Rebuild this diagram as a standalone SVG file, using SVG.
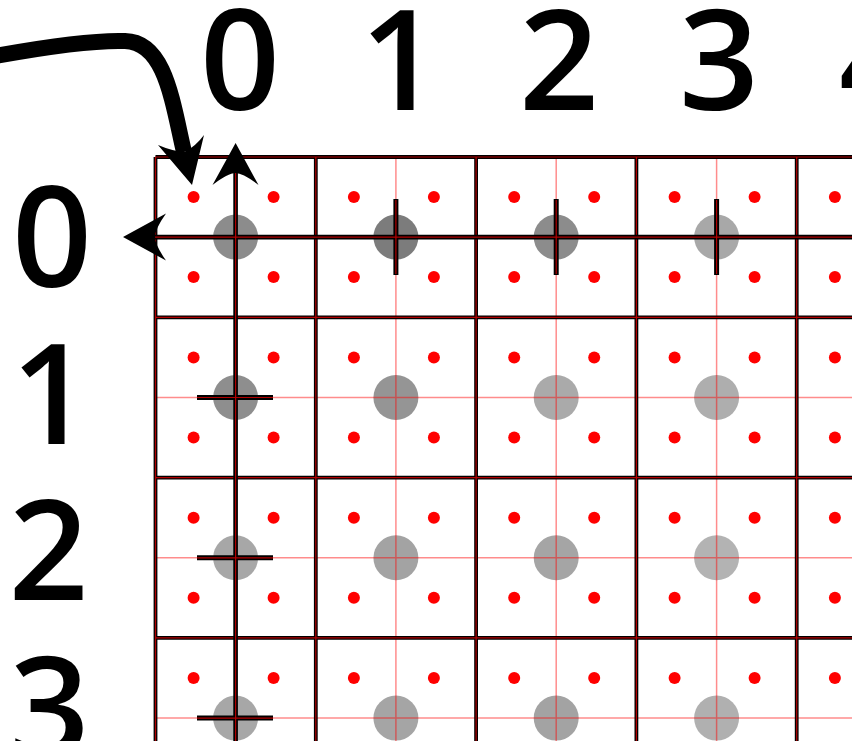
<svg xmlns="http://www.w3.org/2000/svg" width="852" height="741" viewBox="0 0 852 741">
<defs>
<style>
.lbl{font-family:"Open Sans","Liberation Sans",Arial,sans-serif;font-weight:600;font-size:140px;fill:#000;text-anchor:middle}
.dot{fill:#ff0000}
.thin{stroke:#ff0000;stroke-opacity:0.45;stroke-width:1.5;fill:none}
.bk{stroke:#000;stroke-width:3.8;fill:none}
.rd{stroke:#b00000;stroke-width:1.2;fill:none}
.ax{stroke:#000;stroke-width:4.6;fill:none}
.tk{stroke:#000;stroke-width:5;fill:none}
.ah{fill:#000}
</style>
<g id="dots4">
<circle class="dot" cx="-42" cy="-40" r="6"/>
<circle class="dot" cx="38" cy="-40" r="6"/>
<circle class="dot" cx="-42" cy="40" r="6"/>
<circle class="dot" cx="38" cy="40" r="6"/>
</g>
</defs>
<rect width="852" height="741" fill="#fff"/>

<g id="cells">
<g id="cell-0-0"><circle cx="235.6" cy="237.1" r="22.5" fill="#8c8c8c"/><use href="#dots4" x="235.6" y="237.1"/></g>
<g id="cell-1-0"><circle cx="395.9" cy="237.1" r="22.5" fill="#7c7c7c"/><use href="#dots4" x="395.9" y="237.1"/></g>
<g id="cell-2-0"><circle cx="556.2" cy="237.1" r="22.5" fill="#8c8c8c"/><use href="#dots4" x="556.2" y="237.1"/></g>
<g id="cell-3-0"><circle cx="716.6" cy="237.1" r="22.5" fill="#a8a8a8"/><use href="#dots4" x="716.6" y="237.1"/></g>
<g id="cell-4-0"><use href="#dots4" x="876.9" y="237.1"/></g>

<g id="cell-0-1"><circle cx="235.6" cy="397.5" r="22.5" fill="#8e8e8e"/><use href="#dots4" x="235.6" y="397.5"/></g>
<g id="cell-1-1"><circle cx="395.9" cy="397.5" r="22.5" fill="#959595"/><use href="#dots4" x="395.9" y="397.5"/></g>
<g id="cell-2-1"><circle cx="556.2" cy="397.5" r="22.5" fill="#aaaaaa"/><use href="#dots4" x="556.2" y="397.5"/></g>
<g id="cell-3-1"><circle cx="716.6" cy="397.5" r="22.5" fill="#aeaeae"/><use href="#dots4" x="716.6" y="397.5"/></g>
<g id="cell-4-1"><use href="#dots4" x="876.9" y="397.5"/></g>

<g id="cell-0-2"><circle cx="235.6" cy="557.8" r="22.5" fill="#a7a7a7"/><use href="#dots4" x="235.6" y="557.8"/></g>
<g id="cell-1-2"><circle cx="395.9" cy="557.8" r="22.5" fill="#a3a3a3"/><use href="#dots4" x="395.9" y="557.8"/></g>
<g id="cell-2-2"><circle cx="556.2" cy="557.8" r="22.5" fill="#a5a5a5"/><use href="#dots4" x="556.2" y="557.8"/></g>
<g id="cell-3-2"><circle cx="716.6" cy="557.8" r="22.5" fill="#b3b3b3"/><use href="#dots4" x="716.6" y="557.8"/></g>
<g id="cell-4-2"><use href="#dots4" x="876.9" y="557.8"/></g>

<g id="cell-0-3"><circle cx="235.6" cy="718.1" r="22.5" fill="#a7a7a7"/><use href="#dots4" x="235.6" y="718.1"/></g>
<g id="cell-1-3"><circle cx="395.9" cy="718.1" r="22.5" fill="#a5a5a5"/><use href="#dots4" x="395.9" y="718.1"/></g>
<g id="cell-2-3"><circle cx="556.2" cy="718.1" r="22.5" fill="#a3a3a3"/><use href="#dots4" x="556.2" y="718.1"/></g>
<g id="cell-3-3"><circle cx="716.6" cy="718.1" r="22.5" fill="#b0b0b0"/><use href="#dots4" x="716.6" y="718.1"/></g>
<g id="cell-4-3"><use href="#dots4" x="876.9" y="718.1"/></g>
</g>

<g id="center-lines" class="thin">
<path d="M235.6 157V741M395.9 157V741M556.2 157V741M716.6 157V741M155.5 237.1H852M155.5 397.5H852M155.5 557.8H852M155.5 718.1H852"/>
</g>

<g id="grid-lines">
<path class="bk" d="M155.5 157V741M315.8 157V741M476.1 157V741M636.4 157V741M796.7 157V741M155.5 157H852M155.5 317.3H852M155.5 477.6H852M155.5 637.9H852"/>
<path class="rd" d="M155.5 157V741M315.8 157V741M476.1 157V741M636.4 157V741M796.7 157V741M155.5 157H852M155.5 317.3H852M155.5 477.6H852M155.5 637.9H852"/>
</g>

<g id="connectors">
<path class="ax" d="M235.6 165V741M145 237.1H852"/>
<path class="tk" d="M395.9 199V275M556.2 199V275M716.6 199V275M197 397.5H273M197 557.8H273M197 718.1H273"/>
<path class="rd" d="M235.6 165V741M145 237.1H852M197 397.5H273M197 557.8H273M197 718.1H273M395.9 200V274M556.2 200V274M716.6 200V274"/>
<path class="ah" d="M235.6 143L258.5 185Q243 173 235.6 173Q228 173 212.5 185Z"/>
<path class="ah" d="M123 237.1L166 213.5Q155 229 155 237.1Q155 245 166 260.5Z"/>
<path d="M-5 56C50 46 95 40 125 41C165 42 172 100 184 152" stroke="#000" stroke-width="16" fill="none"/>
<path class="ah" d="M192 185L158 145Q172 151 184.5 152Q196 146 204 135Z"/>
</g>

<g id="labels">
<text class="lbl" x="240" y="110">0</text>
<text class="lbl" x="400" y="110">1</text>
<text class="lbl" x="559" y="110">2</text>
<text class="lbl" x="719" y="110">3</text>
<text class="lbl" x="879" y="110">4</text>
<text class="lbl" x="52" y="287">0</text>
<text class="lbl" x="51" y="444">1</text>
<text class="lbl" x="48.5" y="600">2</text>
<text class="lbl" x="49.5" y="757">3</text>
</g>
</svg>
